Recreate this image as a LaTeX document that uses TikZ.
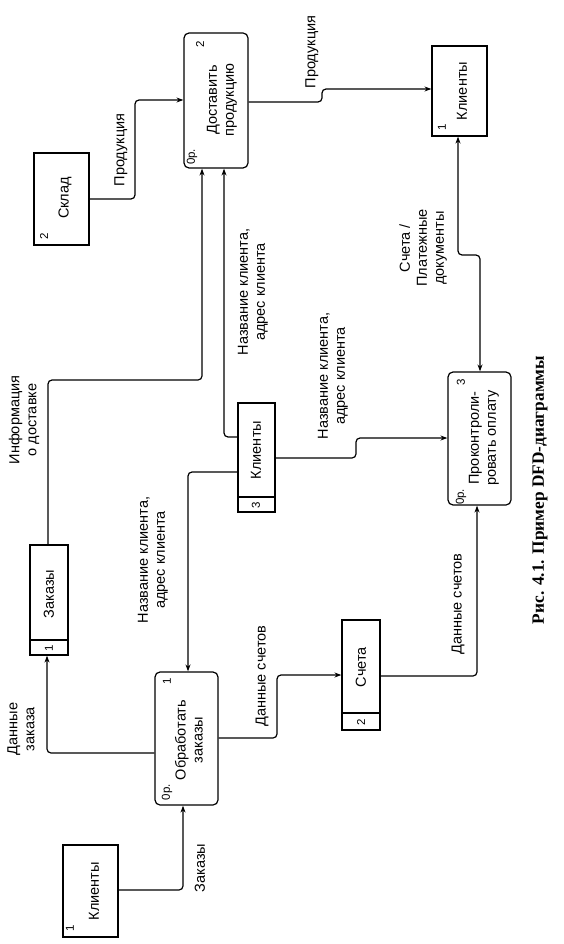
\documentclass[tikz,border=0pt]{standalone}
\usepackage{fontspec}
\setmainfont{Liberation Sans}
\newfontfamily\capfont{Liberation Serif}
\usetikzlibrary{arrows.meta}
\begin{document}
\begin{tikzpicture}[x=1pt,y=-1pt,
  box/.style={draw, line width=1.2pt, inner sep=0pt},
  proc/.style={box, rounded corners=5pt},
  txt/.style={rotate=90, font=\fontsize{14.5}{17}\selectfont, align=center, inner sep=0pt},
  num/.style={rotate=90, font=\fontsize{11.5}{13}\selectfont, inner sep=0pt},
  flow/.style={draw, line width=1.2pt, rounded corners=4pt, -{Stealth[length=7pt,width=5pt]}},
  flow2/.style={draw, line width=1.2pt, rounded corners=4pt, {Stealth[length=7pt,width=5pt]}-{Stealth[length=7pt,width=5pt]}},
]
\useasboundingbox (0,0) rectangle (564,944);

% external entities
\node[box, minimum width=55pt, minimum height=92pt] (kl1) at (90.5,891) {};
\node[txt] (kl1t) at (94,891) {Клиенты};
\node[num] (kl1n) at (70,928) {1};

\node[box, minimum width=55pt, minimum height=92pt] (sk) at (61.5,199) {};
\node[txt] (skt) at (65,198) {Склад};
\node[num] (skn) at (44,236) {2};

\node[box, minimum width=55pt, minimum height=90pt] (kl2) at (459.5,91) {};
\node[txt] (kl2t) at (462,91) {Клиенты};
\node[num] (kl2n) at (442,127) {1};

% processes
\node[proc, minimum width=63pt, minimum height=133pt] (p1) at (186.5,738.5) {};
\node[txt] (p1t) at (189,740) {Обработать\\заказы};
\node[num] (p1n) at (167,681) {1};
\node[num] (p1o) at (167,792) {0р.};

\node[proc, minimum width=64pt, minimum height=135pt] (p2) at (216,100.5) {};
\node[txt] (p2t) at (222,100) {Доставить\\продукцию};
\node[num] (p2n) at (200,44) {2};
\node[num] (p2o) at (192,157) {0р.};

\node[proc, minimum width=63pt, minimum height=133pt] (p3) at (479.5,438.5) {};
\node[txt] (p3t) at (484,438) {Проконтроли-\\ровать оплату};
\node[num] (p3n) at (461,382) {3};
\node[num] (p3o) at (461,497) {0р.};

% data stores
\node[box, minimum width=38pt, minimum height=110pt] (st1) at (49,600) {};
\draw[line width=1.2pt] (st1.west |- 0,640) -- (st1.east |- 0,640);
\node[txt] (st1t) at (49,594) {Заказы};
\node[num] (st1n) at (49,648) {1};

\node[box, minimum width=37pt, minimum height=109pt] (st3) at (256.5,457.5) {};
\draw[line width=1.2pt] (st3.west |- 0,497) -- (st3.east |- 0,497);
\node[txt] (st3t) at (256,450) {Клиенты};
\node[num] (st3n) at (256,505) {3};

\node[box, minimum width=38pt, minimum height=110pt] (st2) at (361,675) {};
\draw[line width=1.2pt] (st2.west |- 0,713) -- (st2.east |- 0,713);
\node[txt] (st2t) at (361,667) {Счета};
\node[num] (st2n) at (361,722) {2};

% flows
\draw[flow] (kl1.east |- 0,890) -- (183,890) -- (183,0 |- p1.south);
\draw[flow] (p1.west |- 0,753) -- (47,753) -- (47,0 |- st1.south);
\draw[flow] (p1.east |- 0,738) -- (277,738) -- (277,675) -- (st2.west |- 0,675);
\draw[flow] (st2.east |- 0,676) -- (477,676) -- (477,0 |- p3.south);
\draw[flow] (st3.west |- 0,472) -- (188,472) -- (188,0 |- p1.north);
\draw[flow] (st3.west |- 0,437) -- (224,437) -- (224,0 |- p2.south);
\draw[flow] (48,0 |- st1.north) -- (48,380) -- (202,380) -- (202,0 |- p2.south);
\draw[flow] (st3.east |- 0,458) -- (356,458) -- (356,438) -- (p3.west |- 0,438);
\draw[flow2] (458,0 |- kl2.south) -- (458,255) -- (480,255) -- (480,0 |- p3.north);
\draw[flow] (p2.east |- 0,102) -- (322,102) -- (322,89) -- (kl2.west |- 0,89);
\draw[flow] (sk.east |- 0,199) -- (135,199) -- (135,100) -- (p2.west |- 0,100);

% labels
\node[txt] (l1) at (200,868) {Заказы};
\node[txt] (l2) at (21,729) {Данные\\заказа};
\node[txt] (l3) at (262,676) {Данные счетов};
\node[txt] (l4) at (458,604) {Данные счетов};
\node[txt] (l5) at (153,560) {Название клиента,\\адрес клиента};
\node[txt] (l6) at (253,292) {Название клиента,\\адрес клиента};
\node[txt] (l7) at (333,376) {Название клиента,\\адрес клиента};
\node[txt] (l8) at (24,420) {Информация\\о доставке};
\node[txt] (l9) at (423,248) {Счета /\\Платежные\\документы};
\node[txt] (l10) at (312,52) {Продукция};
\node[txt] (l11) at (121,150) {Продукция};

% caption
\node[rotate=90, inner sep=0pt, font=\capfont\bfseries\fontsize{17.3}{20}\selectfont] (cap) at (540,490) {Рис. 4.1. Пример DFD-диаграммы};
\end{tikzpicture}
\end{document}
